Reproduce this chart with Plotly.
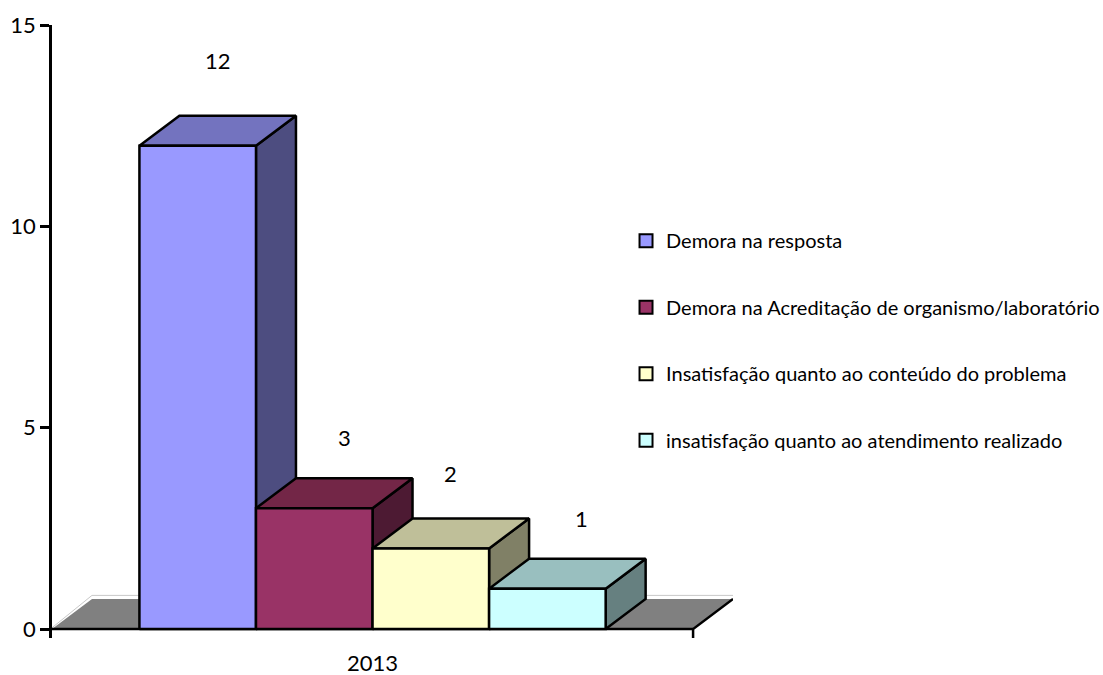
import plotly.graph_objects as go

categories = ["2013"]
series_names = ["Demora na resposta", "Demora na Acreditação de organismo/laboratório",
                "Insatisfação quanto ao conteúdo do problema", "insatisfação quanto ao atendimento realizado"]
series_values = [12, 3, 2, 1]
front_colors = ["#9999FF", "#993366", "#FFFFCC", "#CCFFFF"]
top_colors = ["#7373BF", "#732647", "#BFBF99", "#99BFBF"]
side_colors = ["#4D4D80", "#4D1A33", "#808066", "#668080"]
y_ticks = [0, 5, 10, 15]
label_shift_x = [20, 30, 20, 34]
label_shift_y = [55, 41, 45, 40]

GAP = 0.75
N = len(series_values)
DX, DY = 0.343, 0.745   # oblique depth in axis units
X0, X1 = -GAP, N + GAP
Y_LOW = -0.2235         # room for the end ticks below the baseline
FONT = "Lato, Carlito, Calibri, sans-serif"

fig = go.Figure()
line = dict(color="black", width=2.5)


def poly(xs, ys, fill, ln):
    fig.add_trace(go.Scatter(x=xs, y=ys, mode="lines", fill="toself", fillcolor=fill, line=ln,
                             hoverinfo="skip", showlegend=False, cliponaxis=False))


def path(xs, ys, ln):
    fig.add_trace(go.Scatter(x=xs, y=ys, mode="lines", line=ln, hoverinfo="skip", showlegend=False,
                             cliponaxis=False))


# floor
poly([X0, X0 + DX, X1 + DX, X1, X0], [0, DY, DY, 0, 0], "#808080", dict(color="rgba(0,0,0,0)", width=0))
path([X0, X0 + DX, X1 + DX], [0.03, DY + 0.09, DY + 0.09], dict(color="#C8C8C8", width=1))
path([X1 + DX, X1, X1], [DY, 0, Y_LOW], dict(color="black", width=2.5))
path([X0, X1], [0, 0], dict(color="black", width=2.5))

# bars, left to right so each bar's top overlaps the side of the previous one
for i in range(N):
    v = series_values[i]
    poly([i + 1, i + 1 + DX, i + 1 + DX, i + 1, i + 1], [0, DY, v + DY, v, 0], side_colors[i], line)
    poly([i, i + DX, i + 1 + DX, i + 1, i], [v, v + DY, v + DY, v, v], top_colors[i], line)
    poly([i, i + 1, i + 1, i, i], [0, 0, v, v, 0], front_colors[i], line)

# legend entries
for i, name in enumerate(series_names):
    fig.add_trace(go.Scatter(x=[None], y=[None], mode="markers", name=name, legendgroup=name,
                             marker=dict(symbol="square", size=13, color=front_colors[i],
                                         line=dict(color="black", width=2))))

for i, v in enumerate(series_values):
    fig.add_annotation(x=i + 0.5, y=v + DY, text=str(v), showarrow=False, xshift=label_shift_x[i],
                       yshift=label_shift_y[i], font=dict(family=FONT, size=22, color="black"))

fig.update_layout(
    width=1115, height=675, autosize=False,
    margin=dict(l=52, r=0, t=25, b=37),
    paper_bgcolor="white", plot_bgcolor="white",
    showlegend=True,
    legend=dict(x=0.54, y=0.68, xanchor="left", yanchor="top",
                font=dict(family=FONT, size=20, color="black"), tracegroupgap=37.5,
                itemwidth=30, bgcolor="rgba(0,0,0,0)", traceorder="grouped"),
    xaxis=dict(domain=[0, 0.6407], range=[X0, X1 + DX], tickmode="array", tickvals=[(X0 + X1) / 2],
               ticktext=categories, ticks="", showgrid=False, zeroline=False, showline=False, fixedrange=True,
               automargin=False, tickfont=dict(family=FONT, size=22, color="black"), ticklabelstandoff=10),
    yaxis=dict(range=[Y_LOW, 15], tickmode="array", tickvals=y_ticks, ticks="outside", ticklen=9, tickwidth=2.5,
               tickcolor="black", showline=True, linecolor="black", linewidth=2.5, showgrid=False, zeroline=False,
               fixedrange=True, automargin=False, tickfont=dict(family=FONT, size=22, color="black")),
)
fig.write_html("out.html", config=dict(displayModeBar=False),
               post_script="document.body.style.margin='0';document.body.style.overflow='hidden';")
